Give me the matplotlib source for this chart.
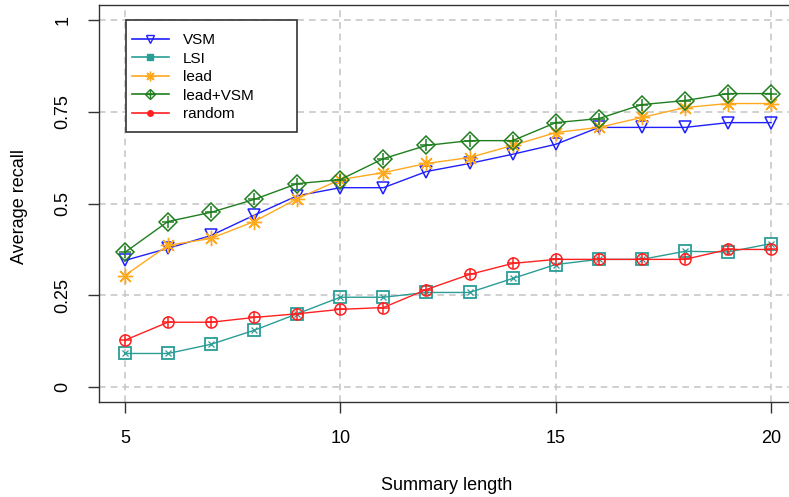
import matplotlib
matplotlib.use("Agg")
import matplotlib.pyplot as plt
from matplotlib.lines import Line2D
from matplotlib.patches import Rectangle
from matplotlib.legend_handler import HandlerTuple

x = [5, 6, 7, 8, 9, 10, 11, 12, 13, 14, 15, 16, 17, 18, 19, 20]
vsm = [0.345, 0.378, 0.413, 0.468, 0.521, 0.543, 0.543, 0.587, 0.609, 0.634, 0.661, 0.707, 0.707, 0.707, 0.720, 0.720]
lsi = [0.092, 0.092, 0.117, 0.155, 0.200, 0.245, 0.245, 0.258, 0.258, 0.296, 0.334, 0.348, 0.348, 0.370, 0.368, 0.391]
lead = [0.304, 0.386, 0.405, 0.451, 0.513, 0.565, 0.584, 0.609, 0.625, 0.658, 0.693, 0.707, 0.734, 0.761, 0.772, 0.772]
leadvsm = [0.367, 0.451, 0.476, 0.511, 0.554, 0.565, 0.622, 0.658, 0.671, 0.671, 0.720, 0.731, 0.769, 0.780, 0.799, 0.799]
rand = [0.128, 0.177, 0.177, 0.190, 0.200, 0.212, 0.217, 0.266, 0.307, 0.337, 0.348, 0.348, 0.348, 0.348, 0.375, 0.375]

xticks = [5, 10, 15, 20]
yticks = [0, 0.25, 0.5, 0.75, 1]
ytick_labels = ["0", "0.25", "0.5", "0.75", "1"]
labels = ["VSM", "LSI", "lead", "lead+VSM", "random"]

C_VSM = "#1f1fff"
C_LSI = "#2a9d96"
C_LEAD = "#ffa91f"
C_LV = "#1f7f1f"
C_RND = "#ff2020"

plt.rcParams['font.family'] = ['Liberation Sans', 'DejaVu Sans']

W, H = 789, 497
fig = plt.figure(figsize=(W / 100, H / 100), dpi=100)
left, right, bottom, top = 99, 797, 402, 5
ax = fig.add_axes([left / W, 1 - bottom / H, (right - left) / W, (bottom - top) / H])
ax.set_xlim(4.4, 20.6)
ax.set_ylim(-0.04, 1.04)

ax.grid(True, color="#c8c8c8", linestyle=(0, (4, 3)), linewidth=1.2)
ax.set_axisbelow(True)

lw = 1.0
ms = 9
# VSM
ax.plot(x, vsm, color=C_VSM, lw=lw, marker="v", ms=ms, mfc="none", mec=C_VSM, mew=1.1, zorder=3)
# LSI
ax.plot(x, lsi, color=C_LSI, lw=lw, marker="s", ms=8, mfc="none", mec=C_LSI, mew=1.3, zorder=3)
ax.plot(x, lsi, color=C_LSI, lw=0, marker="x", ms=5, mec=C_LSI, mew=0.9, zorder=3)
# lead
ax.plot(x, lead, color=C_LEAD, lw=lw, marker=(8, 2, 0), ms=11, mec=C_LEAD, mew=1.0, zorder=3)
# lead+VSM
ax.plot(x, leadvsm, color=C_LV, lw=lw, marker="D", ms=9, mfc="none", mec=C_LV, mew=1.1, zorder=3)
ax.plot(x, leadvsm, color=C_LV, lw=0, marker="+", ms=9, mec=C_LV, mew=1.1, zorder=3)
# random
ax.plot(x, rand, color=C_RND, lw=lw, marker="o", ms=8, mfc="none", mec=C_RND, mew=1.1, zorder=3)
ax.plot(x, rand, color=C_RND, lw=0, marker="+", ms=8, mec=C_RND, mew=1.1, zorder=3)

ax.set_xticks(xticks)
ax.set_xticklabels([str(t) for t in xticks], fontsize=13)
ax.set_yticks(yticks)
ax.set_yticklabels(ytick_labels, fontsize=13, rotation=90, va="center")
ax.tick_params(axis="both", direction="out", length=8, width=1.0, color="#333333", pad=12)
for s in ax.spines.values():
    s.set_color("#333333")
    s.set_linewidth(1.0)

fig.text(447 / W, 1 - 486 / H, "Summary length", ha="center", va="center", fontsize=13)
fig.text(20 / W, 1 - 207 / H, "Average recall", ha="center", va="center", rotation=90, fontsize=13)

# legend box
fig.patches.append(Rectangle((126 / W, 1 - 132 / H), (297 - 126) / W, (132 - 20) / H,
                             transform=fig.transFigure, facecolor="white", edgecolor="#333333",
                             linewidth=1.2, zorder=4))

h_vsm = Line2D([], [], color=C_VSM, lw=1.2, marker="v", ms=6, mfc="none", mec=C_VSM)
h_lsi = Line2D([], [], color=C_LSI, lw=1.2, marker="s", ms=5, mfc=C_LSI, mec=C_LSI)
h_lead = Line2D([], [], color=C_LEAD, lw=1.2, marker=(8, 2, 0), ms=7, mec=C_LEAD)
h_lv = (Line2D([], [], color=C_LV, lw=1.2, marker="D", ms=5, mfc="none", mec=C_LV),
        Line2D([], [], lw=0, marker="+", ms=6, mec=C_LV))
h_rnd = Line2D([], [], color=C_RND, lw=1.2, marker="o", ms=4, mfc=C_RND, mec=C_RND)
leg = fig.legend([h_vsm, h_lsi, h_lead, h_lv, h_rnd], labels,
                 handler_map={tuple: HandlerTuple(ndivide=1, pad=0)},
                 loc="upper left", bbox_to_anchor=(132 / W, 1 - 33 / H),
                 borderaxespad=0, frameon=False,
                 prop={'family': ['Liberation Sans', 'DejaVu Sans'], 'size': 11},
                 handlelength=2.4, handletextpad=0.95, labelspacing=0.3,
                 borderpad=0)
leg.set_zorder(5)

fig.savefig("out.png", dpi=100)
